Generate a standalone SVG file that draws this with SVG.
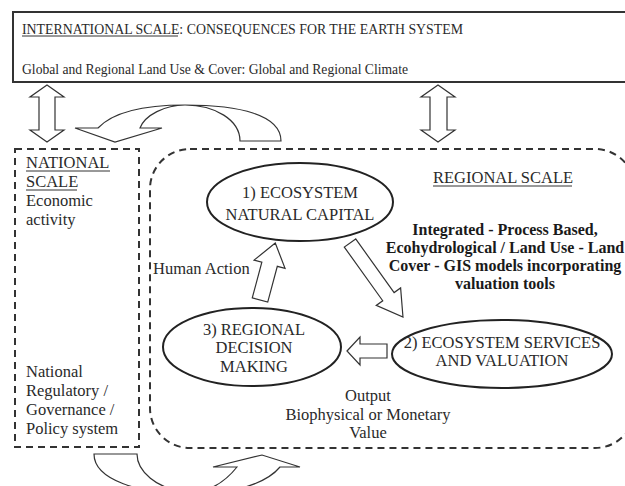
<svg xmlns="http://www.w3.org/2000/svg" width="625" height="486" viewBox="0 0 625 486">
<style>
text{font-family:'Liberation Serif','Times New Roman','DejaVu Serif',serif;fill:#2a2a2a;}
.t14{font-size:14.5px;}
.t16{font-size:16.5px;}
.b16{font-size:16px;font-weight:bold;fill:#1a1a1a;}
.mid{text-anchor:middle;}
.box{fill:#fff;stroke:#333;stroke-width:2;}
.dash{fill:none;stroke:#333;stroke-width:2;stroke-dasharray:7 5;}
.ell{fill:#fff;stroke:#222;stroke-width:2;}
.blk{fill:#fff;stroke:#333;stroke-width:1.2;stroke-linejoin:miter;}
.ul{stroke:#333;stroke-width:1;}
</style>
<rect width="625" height="486" fill="#fff"/>

<g id="international">
<rect class="box" x="13" y="12" width="630" height="70"/>
<text class="t14" x="22" y="33.5" textLength="441" lengthAdjust="spacingAndGlyphs" font-family="Liberation Serif, serif">INTERNATIONAL SCALE: CONSEQUENCES FOR THE EARTH SYSTEM</text>
<line class="ul" x1="22" y1="36" x2="178" y2="36"/>
<text class="t14" x="22" y="74" textLength="386" lengthAdjust="spacingAndGlyphs">Global and Regional Land Use &amp; Cover: Global and Regional Climate</text>
</g>

<g id="national">
<rect class="dash" x="15" y="149" width="124" height="298"/>
<text class="t16" x="26" y="168">NATIONAL</text>
<line class="ul" x1="26" y1="171" x2="110" y2="171"/>
<text class="t16" x="26" y="187">SCALE</text>
<line class="ul" x1="26" y1="190" x2="77" y2="190"/>
<text class="t16" x="26" y="206">Economic</text>
<text class="t16" x="26" y="225">activity</text>
<text class="t16" x="26" y="377">National</text>
<text class="t16" x="26" y="396">Regulatory /</text>
<text class="t16" x="26" y="415">Governance /</text>
<text class="t16" x="26" y="434">Policy system</text>
</g>

<g id="regional">
<rect class="dash" x="150" y="149" width="485" height="299" rx="40" ry="40"/>
<text class="t16" x="433" y="183">REGIONAL SCALE</text>
<line class="ul" x1="433" y1="186" x2="572" y2="186"/>
</g>

<g id="model-text">
<text class="b16 mid" x="505" y="235">Integrated - Process Based,</text>
<text class="b16 mid" x="505" y="253">Ecohydrological / Land Use - Land</text>
<text class="b16 mid" x="505" y="271">Cover - GIS models incorporating</text>
<text class="b16 mid" x="505" y="289">valuation tools</text>
</g>

<g id="eco1">
<ellipse class="ell" cx="300" cy="202" rx="93" ry="39"/>
<text class="t16 mid" x="300" y="198">1) ECOSYSTEM</text>
<text class="t16 mid" x="300" y="220">NATURAL CAPITAL</text>
</g>

<g id="eco2">
<ellipse class="ell" cx="502" cy="354" rx="110" ry="34"/>
<text class="t16 mid" x="502" y="348">2) ECOSYSTEM SERVICES</text>
<text class="t16 mid" x="502" y="366">AND VALUATION</text>
</g>

<g id="eco3">
<ellipse class="ell" cx="252" cy="347" rx="89" ry="39"/>
<text class="t16 mid" x="254" y="335">3) REGIONAL</text>
<text class="t16 mid" x="254" y="353">DECISION</text>
<text class="t16 mid" x="254" y="372">MAKING</text>
</g>

<g id="labels">
<text class="t16" x="153" y="274">Human Action</text>
<text class="t16 mid" x="368" y="401">Output</text>
<text class="t16 mid" x="368" y="420">Biophysical or Monetary</text>
<text class="t16 mid" x="368" y="438">Value</text>
</g>

<g id="connectors">
<polygon class="blk" points="47,85 64,97 55,97 55,130 64,130 47,142 30,130 39,130 39,97 30,97"/>
<polygon class="blk" points="438,85 455,97 447,97 447,130 455,130 438,142 421,130 430,130 430,97 421,97"/>
<path class="blk" d="M98,128 C115,110 150,105 185,105 C240,105 281,115 281,141 L240,141 C240,120 215,105 185,105 C165,105 145,115 140,128 L162,128 L115,142 L75,128 Z"/>
<path class="blk" d="M94,454 C94,480 140,494 190,494 C230,494 265,485 280,467 L300,467 L262,455 L213,467 L237,467 C225,482 210,492 190,492 C155,490 137,470 137,454 Z"/>
<polygon class="blk" transform="translate(260,300) rotate(15)" points="-8,0 8,0 8,-37 16,-37 0,-59 -16,-37 -8,-37"/>
<polygon class="blk" transform="translate(350,243) rotate(144.4)" points="-7,0 7,0 7,-66 15,-66 0,-91 -15,-66 -7,-66"/>
<polygon class="blk" points="347,351 360,337 360,344 387,344 387,358 360,358 360,365"/>
</g>
</svg>
